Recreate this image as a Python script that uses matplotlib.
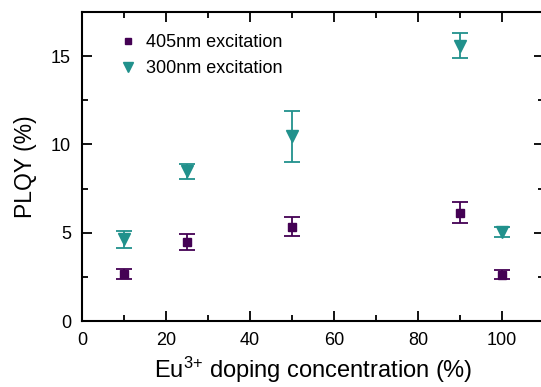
import matplotlib
matplotlib.use("Agg")
import matplotlib.pyplot as plt
from matplotlib.lines import Line2D
from matplotlib.ticker import MultipleLocator

plt.rcParams["font.family"] = ["Liberation Sans", "DejaVu Sans"]
plt.rcParams["mathtext.fontset"] = "custom"
plt.rcParams["mathtext.rm"] = "Liberation Sans"
plt.rcParams["mathtext.it"] = "Liberation Sans"

# Eu3+ doping concentration (%)
conc = [10, 25, 50, 90, 100]

# PLQY (%) under 405 nm excitation
plqy_405 = [2.65, 4.47, 5.35, 6.13, 2.62]
err_405 = [0.27, 0.43, 0.52, 0.60, 0.25]

# PLQY (%) under 300 nm excitation
plqy_300 = [4.62, 8.48, 10.45, 15.6, 5.05]
err_300 = [0.50, 0.43, 1.43, 0.72, 0.30]

PURPLE = "#440154"
TEAL = "#21918c"

fig = plt.figure(figsize=(5.41, 3.87), dpi=100)
ax = fig.add_axes([82 / 541, 1 - 321 / 387, 462 / 541, 309 / 387])

ax.errorbar(conc, plqy_405, yerr=err_405, fmt="s", ms=6, color=PURPLE,
            ecolor=PURPLE, elinewidth=1.3, capsize=6, capthick=1.3)
ax.errorbar(conc, plqy_300, yerr=err_300, fmt="v", ms=8.5, color=TEAL,
            ecolor=TEAL, elinewidth=1.3, capsize=6, capthick=1.3)

ax.set_xlim(0, 110)
ax.set_ylim(0, 17.5)
ax.xaxis.set_major_locator(MultipleLocator(20))
ax.xaxis.set_minor_locator(MultipleLocator(10))
ax.yaxis.set_major_locator(MultipleLocator(5))
ax.yaxis.set_minor_locator(MultipleLocator(2.5))
ax.tick_params(which="both", direction="in", top=True, right=True,
               width=1.3, labelsize=13, pad=8)
ax.tick_params(which="major", length=7)
ax.tick_params(which="minor", length=4)
for s in ax.spines.values():
    s.set_linewidth(1.5)

ax.set_xlabel("Eu$^{3{+}}$ doping concentration (%)", fontsize=17, labelpad=4)
ax.set_ylabel("PLQY (%)", fontsize=16.5, labelpad=10)

handles = [
    Line2D([], [], ls="none", marker="s", ms=5, color=PURPLE),
    Line2D([], [], ls="none", marker="v", ms=7, color=TEAL),
]
ax.legend(handles, ["405nm excitation", "300nm excitation"],
          loc="upper left", bbox_to_anchor=(0.045, 0.98), frameon=False,
          fontsize=13, handletextpad=0.5, labelspacing=0.5,
          handlelength=1.0)

fig.savefig("out.png", dpi=100)
